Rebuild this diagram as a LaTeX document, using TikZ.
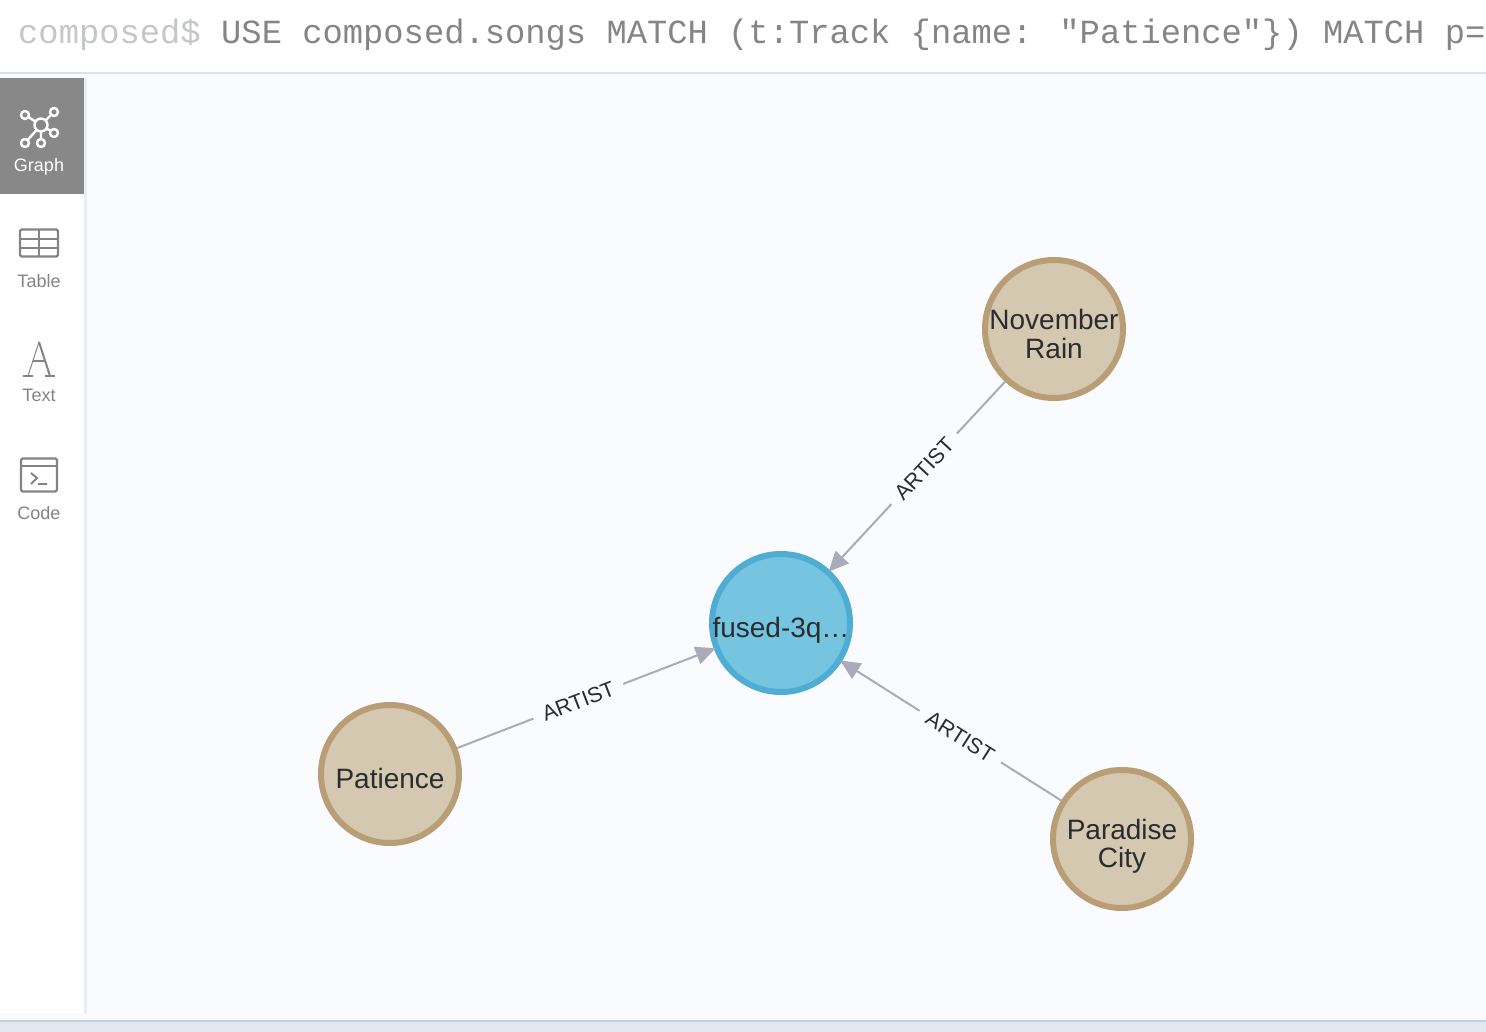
\documentclass[tikz,border=0pt]{standalone}
\usepackage{fontspec}
\setmainfont{Liberation Sans}
\newfontfamily\querymono{Liberation Mono}
\usetikzlibrary{arrows.meta}
\definecolor{pagebg}{HTML}{FAFBFF}
\definecolor{topline}{HTML}{D5E3EF}
\definecolor{bottomstrip}{HTML}{E2E8F0}
\definecolor{bottomedge}{HTML}{C8D0DA}
\definecolor{sideshadow}{HTML}{ECEEF3}
\definecolor{activetab}{HTML}{888888}
\definecolor{tabgrey}{HTML}{848484}
\definecolor{promptgrey}{HTML}{C4C6C9}
\definecolor{querygrey}{HTML}{858585}
\definecolor{tanfill}{HTML}{D5C8B0}
\definecolor{tanring}{HTML}{B99D75}
\definecolor{bluefill}{HTML}{75C4E0}
\definecolor{bluering}{HTML}{4FACD3}
\definecolor{edgegrey}{HTML}{A9ABB8}
\definecolor{inktext}{HTML}{2A2C30}
\newcommand{\nudgedtext}[2]{\smash{\raisebox{#1}{\begin{tabular}[t]{@{}c@{}}#2\end{tabular}}}}
\tikzset{
  graphnode/.style={circle,minimum size=138pt,inner sep=0pt,line width=6pt,text=inktext,
    font=\fontsize{28}{27.5}\selectfont},
  tan/.style={graphnode,draw=tanring,fill=tanfill},
  blue/.style={graphnode,draw=bluering,fill=bluefill},
  rel/.style={draw=edgegrey,line width=2pt,shorten >=-2pt,-{Triangle[length=20pt,width=18pt]}},
  rellabel/.style={fill=pagebg,text=inktext,font=\fontsize{21.5}{22}\selectfont,sloped,inner sep=0pt,
    minimum width=96pt,minimum height=20pt},
  tablabel/.style={text=tabgrey,font=\fontsize{18}{18}\selectfont,inner sep=0pt,anchor=center},
  iconline/.style={draw=tabgrey,line width=2.4pt,line join=round,rounded corners=1.5pt},
  sat/.style={draw=white,line width=2.4pt},
}
\begin{document}
\begin{tikzpicture}[x=1pt,y=-1pt]
\useasboundingbox (0,0) rectangle (1486,1032);
% background
\fill[pagebg] (0,0) rectangle (1486,1032);
\fill[white] (0,0) rectangle (1486,72);
\fill[topline] (0,72) rectangle (1486,74);
\fill[bottomstrip] (0,1020) rectangle (1486,1032);
\fill[bottomedge] (0,1020) rectangle (1486,1022);
% sidebar
\fill[sideshadow] (84,78) rectangle (87,1014);
\fill[white] (0,78) rectangle (84,1013);
\fill[activetab] (0,78) rectangle (84,194);
% query
\begin{scope}
\clip (0,0) rectangle (1486,72);
\node[anchor=base west,inner sep=0pt,text=promptgrey,font=\querymono\fontsize{33.8}{34}\selectfont] (prompt) at (18,44) {composed\$};
\node[anchor=base west,inner sep=0pt,text=querygrey,font=\querymono\fontsize{33.8}{34}\selectfont] (query) at (221,44) {USE composed.songs MATCH (t:Track \{name: "Patience"\}) MATCH p=};
\end{scope}
% graph icon
\draw[sat] (41,125) -- (25,115) (41,125) -- (54,112) (41,125) -- (54,133) (41,125) -- (41,143) (41,125) -- (25,143);
\draw[sat,fill=activetab] (41,125) circle (6.5pt);
\foreach \p in {(25,115),(54,112),(54,133),(41,143),(25,143)}
  \draw[sat,fill=activetab] \p circle (4pt);
\node[tablabel,text=white] (tabgraph) at (39,167) {Graph};
% table icon
\draw[iconline] (20,229.5) rectangle (58,256.5);
\draw[draw=tabgrey,line width=2pt] (20,239.5) -- (58,239.5) (20,248) -- (58,248) (39,229.5) -- (39,256.5);
\node[tablabel] (tabtable) at (39,281) {Table};
% text icon
\draw[tabgrey,line width=1pt] (28,376) -- (39,342);
\draw[tabgrey,line width=2pt] (39,342) -- (50,376);
\draw[tabgrey,line width=1.2pt] (32.5,361) -- (45.5,361);
\draw[tabgrey,line width=1.5pt] (23,376) -- (33,376) (45,376) -- (55,376);
\node[tablabel] (tabtext) at (39,395) {Text};
% code icon
\draw[iconline] (21,458.5) rectangle (57,491.5);
\draw[draw=tabgrey,line width=2pt] (21,466) -- (57,466);
\draw[draw=tabgrey,line width=2pt] (31,473) -- (37,478) -- (31,484) (38,484) -- (47,484);
\node[tablabel] (tabcode) at (39,513) {Code};
% graph nodes
\node[tan] (rain) at (1054,329) {\nudgedtext{-1pt}{November\\Rain}};
\node[blue] (fused) at (781,623) {\nudgedtext{-14pt}{fused-3q\ldots}};
\node[tan] (pat) at (390,774) {\nudgedtext{-14pt}{Patience}};
\node[tan] (city) at (1122,839) {\nudgedtext{0pt}{Paradise\\City}};
% connectors
\draw[rel] (rain) -- (fused) node[rellabel,pos=.462] (l1) {ARTIST};
\draw[rel] (pat) -- (fused) node[rellabel,pos=.472] (l2) {ARTIST};
\draw[rel] (city) -- (fused) node[rellabel,pos=.46] (l3) {ARTIST};
\end{tikzpicture}
\end{document}
